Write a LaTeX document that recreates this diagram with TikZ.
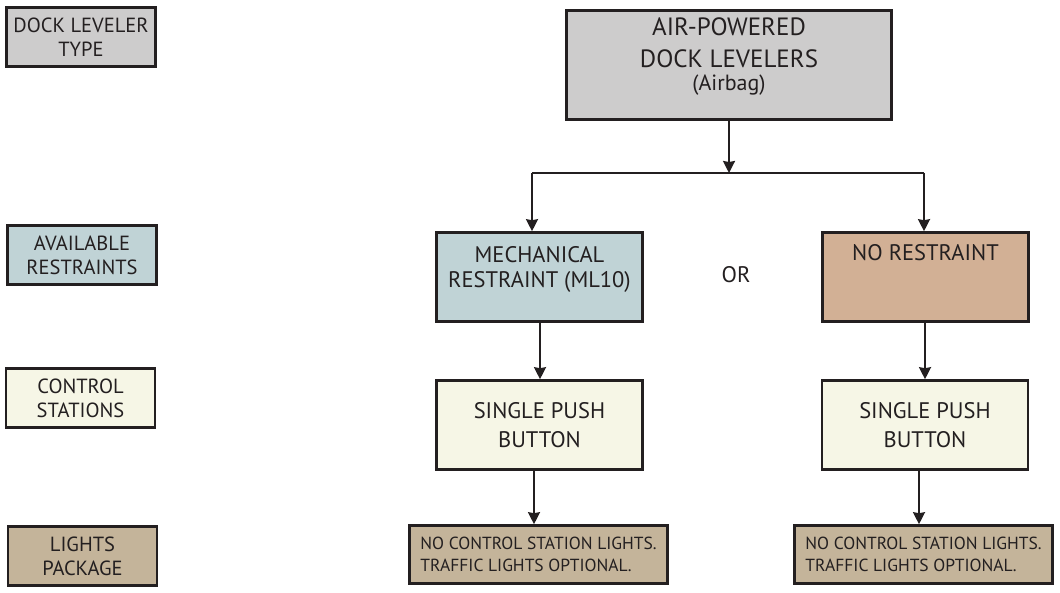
\documentclass[tikz,border=0pt]{standalone}
\usepackage{fontspec}
\setmainfont{PT Sans}
\usetikzlibrary{arrows.meta,positioning}
\definecolor{boxline}{HTML}{231F20}
\definecolor{typegray}{HTML}{CDCCCC}
\definecolor{restblue}{HTML}{C0D3D6}
\definecolor{notan}{HTML}{D2B095}
\definecolor{ctrlcream}{HTML}{F6F6E6}
\definecolor{lighttan}{HTML}{C4B49A}

\begin{document}
\begin{tikzpicture}[x=1pt,y=-1pt,->,>={Stealth[length=12pt,width=12pt,inset=1pt]},
  line width=2pt,color=boxline,
  legend/.style={draw,line width=2.6pt,minimum width=149pt,minimum height=59pt,
    inner sep=0pt,align=center,font=\fontsize{20.5}{24}\selectfont},
  levelbox/.style={draw,line width=2.6pt,minimum width=206pt,minimum height=89pt,inner sep=0pt},
  boxtext/.style={anchor=north,inner sep=0pt,align=center,font=\fontsize{22.5}{25}\selectfont},
  lightsbox/.style={draw,line width=2.6pt,minimum width=258pt,minimum height=58pt,
    inner sep=0pt,align=left,font=\fontsize{17.5}{22}\selectfont}]
\useasboundingbox (0,0) rectangle (1060,593);
% legend column
\node[legend,fill=typegray] (typeKey) at (81,37) {DOCK LEVELER\\TYPE};
\node[legend,fill=restblue] (restKey) at (82,255) {AVAILABLE\\RESTRAINTS};
\node[legend,fill=ctrlcream] (ctrlKey) at (80.5,398) {CONTROL\\STATIONS};
\node[legend,fill=lighttan] (lightKey) at (82.5,556) {LIGHTS\\PACKAGE};
% leveler type
\node[draw,line width=2.6pt,fill=typegray,minimum width=325pt,minimum height=109pt] (air) at (729,65) {};
\node[boxtext,font=\fontsize{25}{32}\selectfont] (airText) at ([yshift=-8pt]air.north)
  {AIR-POWERED\\DOCK LEVELERS\\[-9pt]{\fontsize{22}{20}\selectfont(Airbag)}};
% restraints
\node[levelbox,fill=restblue] (mech) at (539.5,277) {};
\node[boxtext] (mechText) at ([yshift=-14pt]mech.north) {MECHANICAL\\RESTRAINT (ML10)};
\node[font=\fontsize{22.5}{25}\selectfont] (or) at (736,275) {OR};
\node[levelbox,fill=notan] (noRest) at (925.5,277) {};
\node[boxtext] (noRestText) at ([yshift=-12pt]noRest.north) {NO RESTRAINT};
% control stations
\node[levelbox,fill=ctrlcream,align=center,font=\fontsize{22.5}{29}\selectfont] (ctrlL) at (539.5,425) {SINGLE PUSH\\BUTTON};
\node[levelbox,fill=ctrlcream,align=center,font=\fontsize{22.5}{29}\selectfont] (ctrlR) at (925,425) {SINGLE PUSH\\BUTTON};
% lights
\node[lightsbox,fill=lighttan] (lightsL) at (538.5,554.5) {NO CONTROL STATION LIGHTS.\\TRAFFIC LIGHTS OPTIONAL.};
\node[lightsbox,fill=lighttan] (lightsR) at (923.5,554.5) {NO CONTROL STATION LIGHTS.\\TRAFFIC LIGHTS OPTIONAL.};
% connectors
\coordinate (splitL) at (532,173);
\coordinate (splitR) at (924,173);
\coordinate (splitM) at (air.south |- splitL);
\draw (air.south) -- (splitM);
\draw[-] (splitL) -- (splitR);
\draw (splitL) -- (splitL |- mech.north);
\draw (splitR) -- (splitR |- noRest.north);
\draw ([xshift=0.5pt]mech.south) -- ([xshift=0.5pt]mech.south |- ctrlL.north);
\draw ([xshift=-0.5pt]noRest.south) -- ([xshift=-0.5pt]noRest.south |- ctrlR.north);
\draw ([xshift=-5.5pt]ctrlL.south) -- ([xshift=-5.5pt]ctrlL.south |- lightsL.north);
\draw ([xshift=-6pt]ctrlR.south) -- ([xshift=-6pt]ctrlR.south |- lightsR.north);
\end{tikzpicture}
\end{document}
